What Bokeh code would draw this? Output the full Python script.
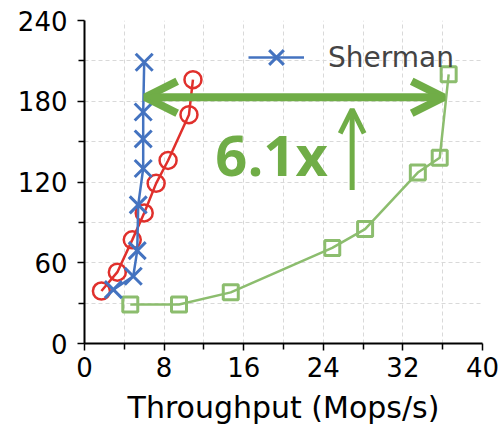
from bokeh.plotting import figure
from bokeh.models import (Range1d, FixedTicker, Legend, LegendItem, Arrow, OpenHead,
                          Label)
from bokeh.embed import file_html
from bokeh.resources import INLINE

# Data
sherman_x = [2.9, 4.9, 5.3, 5.4, 5.9, 5.9, 5.9, 6.0]
sherman_y = [40, 50, 69, 103, 130, 152, 172, 209]
red_x = [1.7, 3.3, 4.8, 6.0, 7.2, 8.4, 10.5, 10.9]
red_y = [39, 53, 77, 97, 119, 136, 170, 196]
green_x = [4.6, 9.5, 14.7, 24.9, 28.2, 33.5, 35.7, 36.6]
green_y = [29, 29, 38, 71, 85, 127, 138, 200]
x_major = [0, 8, 16, 24, 32, 40]
x_minor = [4, 12, 20, 28, 36]
y_major = [0, 60, 120, 180, 240]
y_minor = [30, 90, 150, 210]
speedup_label = "6.1x"
arrow_y = 183
arrow_x0, arrow_x1 = 6.1, 36.1
up_x, up_y0, up_y1 = 26.9, 114, 174
label_x, label_y = 18.8, 141

BLUE = "#4473c0"
RED = "#e0302c"
GREEN_LINE = "#8cbd6e"
GREEN = "#70ad47"
FONT = "DejaVu Sans"

p = figure(width=503, height=427, output_backend="svg", toolbar_location=None,
           x_range=Range1d(0, 40), y_range=Range1d(0, 240),
           min_border_left=84, min_border_right=21, min_border_top=20,
           min_border_bottom=84)
p.outline_line_color = None
p.background_fill_color = "white"
p.border_fill_color = "white"

for ax in (p.xaxis[0], p.yaxis[0]):
    ax.axis_line_width = 2
    ax.axis_line_color = "black"
    ax.major_tick_line_width = 1.5
    ax.minor_tick_line_width = 1.5
    ax.major_tick_in = 0
    ax.minor_tick_in = 0
    ax.major_tick_out = 7
    ax.minor_tick_out = 6
    ax.major_label_text_font = FONT
    ax.major_label_text_font_size = "26px"
    ax.major_label_text_color = "black"
    ax.axis_label_text_font = FONT
    ax.axis_label_text_font_size = "30px"
    ax.axis_label_text_font_style = "normal"
    ax.axis_label_text_color = "black"

p.xaxis.ticker = FixedTicker(ticks=x_major, minor_ticks=x_minor)
p.yaxis.ticker = FixedTicker(ticks=y_major, minor_ticks=y_minor)
p.xaxis.axis_label = "Throughput (Mops/s)"
p.xaxis.major_label_standoff = 6
p.yaxis.major_label_standoff = 10
p.xaxis.axis_label_standoff = 10

for g in (p.xgrid[0], p.ygrid[0]):
    g.grid_line_color = "#d9d9d9"
    g.grid_line_dash = "4 3"
    g.grid_line_width = 1
    g.minor_grid_line_color = "#d9d9d9"
    g.minor_grid_line_dash = "4 3"
    g.minor_grid_line_width = 1

# Series
p.line(green_x, green_y, line_color=GREEN_LINE, line_width=2.5)
p.scatter(green_x, green_y, marker="square", size=15, line_color=GREEN_LINE,
          line_width=3, fill_color=None)

p.line(red_x, red_y, line_color=RED, line_width=2.5)
p.scatter(red_x, red_y, marker="circle", size=17, line_color=RED,
          line_width=2.5, fill_color=None)

bl = p.line(sherman_x, sherman_y, line_color=BLUE, line_width=2.5)
bs = p.scatter(sherman_x, sherman_y, marker="x", size=24, line_color=BLUE,
               line_width=3)

legend = Legend(items=[LegendItem(label="Sherman", renderers=[bl, bs])],
                location=(164, 260), padding=0, margin=0, border_line_color=None,
                background_fill_alpha=0, glyph_width=56, glyph_height=52,
                label_height=52, label_standoff=24,
                label_text_font=FONT, label_text_font_size="28px")
p.add_layout(legend, "center")

# Annotations
p.add_layout(Arrow(start=OpenHead(size=32, line_color=GREEN, line_width=8),
                   end=OpenHead(size=32, line_color=GREEN, line_width=8),
                   x_start=arrow_x0, y_start=arrow_y, x_end=arrow_x1, y_end=arrow_y,
                   line_color=GREEN, line_width=8))
p.add_layout(Arrow(end=OpenHead(size=24, line_color=GREEN, line_width=5),
                   x_start=up_x, y_start=up_y0, x_end=up_x, y_end=up_y1,
                   line_color=GREEN, line_width=5))
p.add_layout(Label(x=label_x, y=label_y, text=speedup_label, text_align="center",
                   text_baseline="alphabetic", text_font="Open Sans",
                   text_font_style="bold", text_font_size="56px",
                   text_color=GREEN))

open("out.html", "w").write(file_html(p, INLINE))
